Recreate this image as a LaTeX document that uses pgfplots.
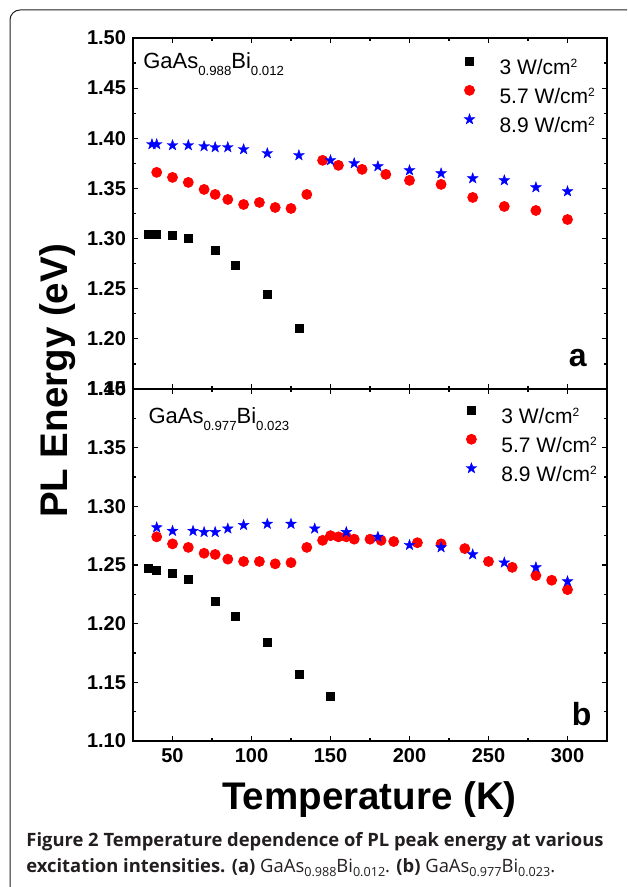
\documentclass[border=0pt]{standalone}
\usepackage{fontspec}
\setmainfont{Liberation Sans}
\newfontfamily\capfont{Open Sans}
\usepackage{pgfplots}
\pgfplotsset{compat=1.18}
\usetikzlibrary{plotmarks}
\definecolor{capgray}{HTML}{231F20}
\pgfdeclareplotmark{fstar}{%
  \pgfpathmoveto{\pgfqpointpolar{90}{\pgfplotmarksize}}%
  \pgfpathlineto{\pgfqpointpolar{126}{0.40\pgfplotmarksize}}%
  \pgfpathlineto{\pgfqpointpolar{162}{\pgfplotmarksize}}%
  \pgfpathlineto{\pgfqpointpolar{198}{0.40\pgfplotmarksize}}%
  \pgfpathlineto{\pgfqpointpolar{234}{\pgfplotmarksize}}%
  \pgfpathlineto{\pgfqpointpolar{270}{0.40\pgfplotmarksize}}%
  \pgfpathlineto{\pgfqpointpolar{306}{\pgfplotmarksize}}%
  \pgfpathlineto{\pgfqpointpolar{342}{0.40\pgfplotmarksize}}%
  \pgfpathlineto{\pgfqpointpolar{18}{\pgfplotmarksize}}%
  \pgfpathlineto{\pgfqpointpolar{54}{0.40\pgfplotmarksize}}%
  \pgfpathclose\pgfusepathqfillstroke}
\newcommand\sub[1]{\raisebox{-3.2pt}{\fontsize{6.6}{7}\selectfont #1}}
\newcommand\sq{\raisebox{3.7pt}{\fontsize{6}{7}\selectfont 2}}
\newcommand\csub[1]{\raisebox{-1.8pt}{\fontsize{6.3}{7}\selectfont #1}}
\pgfplotsset{
  panel/.style={
    scale only axis, width=237pt,
    xmin=25, xmax=325,
    xtick={50,100,150,200,250,300},
    minor x tick num=1, minor y tick num=1,
    tick align=inside,
    major tick length=2.5pt, minor tick length=1.5pt,
    axis line style={line width=0.6pt},
    every tick/.style={line width=0.6pt, black},
    tick label style={font=\fontsize{10}{12}\selectfont\bfseries},
    /pgf/number format/assume math mode=true,
    yticklabel style={/pgf/number format/.cd, fixed, fixed zerofill, precision=2},
    legend cell align=left,
    legend image code/.code={\path[draw=none,fill=none] (-5pt,0pt) rectangle (5pt,7pt); \draw[##1] plot coordinates {(0pt,3.6pt)};},
    legend style={draw=none, fill=none, inner sep=0pt, column sep=10pt, row sep=2.5pt,
      font=\fontsize{10.5}{12}\selectfont,
      nodes={inner sep=0pt, text height=8pt, text depth=2pt}},
  },
  sqm/.style={only marks, mark=square*, mark size=2pt, mark options={fill=black, draw=black}},
  ci/.style={only marks, mark=*, mark size=2.5pt, mark options={fill=red, draw=red}},
  st/.style={only marks, mark=fstar, mark size=2.8pt, mark options={fill=blue, draw=blue, line width=0.2pt}},
}
\begin{document}
\begin{tikzpicture}
% frame
\draw[line width=0.5pt, capgray] (5pt,0pt) -- (5pt,433.5pt) arc[start angle=180, end angle=90, radius=5pt] -- (313.5pt,438.5pt);
% panel a
\begin{axis}[panel, at={(66.5pt,249pt)}, anchor=south west, height=175.5pt,
  ymin=1.15, ymax=1.50, ytick={1.15,1.20,1.25,1.30,1.35,1.40,1.45,1.50},
  xticklabels={},
  legend style={at={(rel axis cs:0.688,0.954)}, anchor=north west}]
\addplot[sqm] coordinates {(35,1.304)(40,1.304)(50,1.303)(60,1.300)(77,1.288)(90,1.273)(110,1.244)(130,1.210)};
\addlegendentry{3 W/cm\sq}
\addplot[ci] coordinates {(40,1.366)(50,1.361)(60,1.356)(70,1.349)(77,1.344)(85,1.339)(95,1.334)(105,1.336)(115,1.331)(125,1.330)(135,1.344)(145,1.378)(155,1.373)(170,1.369)(185,1.364)(200,1.358)(220,1.354)(240,1.341)(260,1.332)(280,1.328)(300,1.319)};
\addlegendentry{5.7 W/cm\sq}
\addplot[st] coordinates {(37,1.394)(40,1.394)(50,1.393)(60,1.393)(70,1.392)(77,1.391)(85,1.391)(95,1.389)(110,1.385)(130,1.383)(150,1.378)(165,1.375)(180,1.372)(200,1.368)(220,1.365)(240,1.360)(260,1.358)(280,1.351)(300,1.347)};
\addlegendentry{8.9 W/cm\sq}
\node[anchor=base west, font=\fontsize{11}{13}\selectfont, inner sep=0pt] at (rel axis cs:0.021,0.912) {GaAs\sub{0.988}Bi\sub{0.012}};
\node[anchor=base east, font=\fontsize{16}{18}\selectfont\bfseries, inner sep=0pt] at (rel axis cs:0.958,0.0627) {a};
\end{axis}
% panel b
\begin{axis}[panel, at={(66.5pt,73pt)}, anchor=south west, height=176pt,
  ymin=1.10, ymax=1.40, ytick={1.10,1.15,1.20,1.25,1.30,1.35,1.40},
  legend style={at={(rel axis cs:0.692,0.960)}, anchor=north west}]
\addplot[sqm] coordinates {(35,1.247)(40,1.245)(50,1.243)(60,1.238)(77,1.219)(90,1.206)(110,1.184)(130,1.157)(150,1.138)};
\addlegendentry{3 W/cm\sq}
\addplot[ci] coordinates {(40,1.274)(50,1.268)(60,1.265)(70,1.260)(77,1.259)(85,1.255)(95,1.253)(105,1.253)(115,1.251)(125,1.252)(135,1.265)(145,1.271)(150,1.275)(155,1.274)(160,1.274)(165,1.272)(175,1.272)(182,1.271)(190,1.270)(205,1.269)(220,1.268)(235,1.264)(250,1.253)(265,1.248)(280,1.241)(290,1.237)(300,1.229)};
\addlegendentry{5.7 W/cm\sq}
\addplot[st] coordinates {(40,1.282)(50,1.279)(63,1.279)(70,1.278)(77,1.278)(85,1.281)(95,1.284)(110,1.285)(125,1.285)(140,1.281)(160,1.278)(180,1.274)(200,1.267)(220,1.265)(240,1.259)(260,1.252)(280,1.248)(300,1.236)};
\addlegendentry{8.9 W/cm\sq}
\node[anchor=base west, font=\fontsize{11}{13}\selectfont, inner sep=0pt] at (rel axis cs:0.032,0.9006) {GaAs\sub{0.977}Bi\sub{0.023}};
\node[anchor=base east, font=\fontsize{16}{18}\selectfont\bfseries, inner sep=0pt] at (rel axis cs:0.968,0.045) {b};
\end{axis}
% axis titles
\node[rotate=90, anchor=base, font=\fontsize{19.25}{22}\selectfont\bfseries, inner sep=0pt] at (33.5pt,253pt) {PL Energy (eV)};
\node[anchor=base, font=\fontsize{19.25}{22}\selectfont\bfseries, inner sep=0pt] at (184.75pt,38.5pt) {Temperature (K)};
% caption
\node[anchor=base west, inner sep=0pt, text=capgray, font=\capfont\fontsize{9.2}{11}\selectfont] at (13pt,20pt) {\bfseries Figure 2 Temperature dependence of PL peak energy at various};
\node[anchor=base west, inner sep=0pt, text=capgray, font=\capfont\fontsize{9.2}{11}\selectfont] at (13pt,7pt) {\textbf{excitation intensities. (a)} GaAs\csub{0.988}Bi\csub{0.012}. \textbf{(b)} GaAs\csub{0.977}Bi\csub{0.023}.};
\pgfresetboundingbox
\useasboundingbox (0pt,0pt) rectangle (313.5pt,443.5pt);
\end{tikzpicture}
\end{document}
